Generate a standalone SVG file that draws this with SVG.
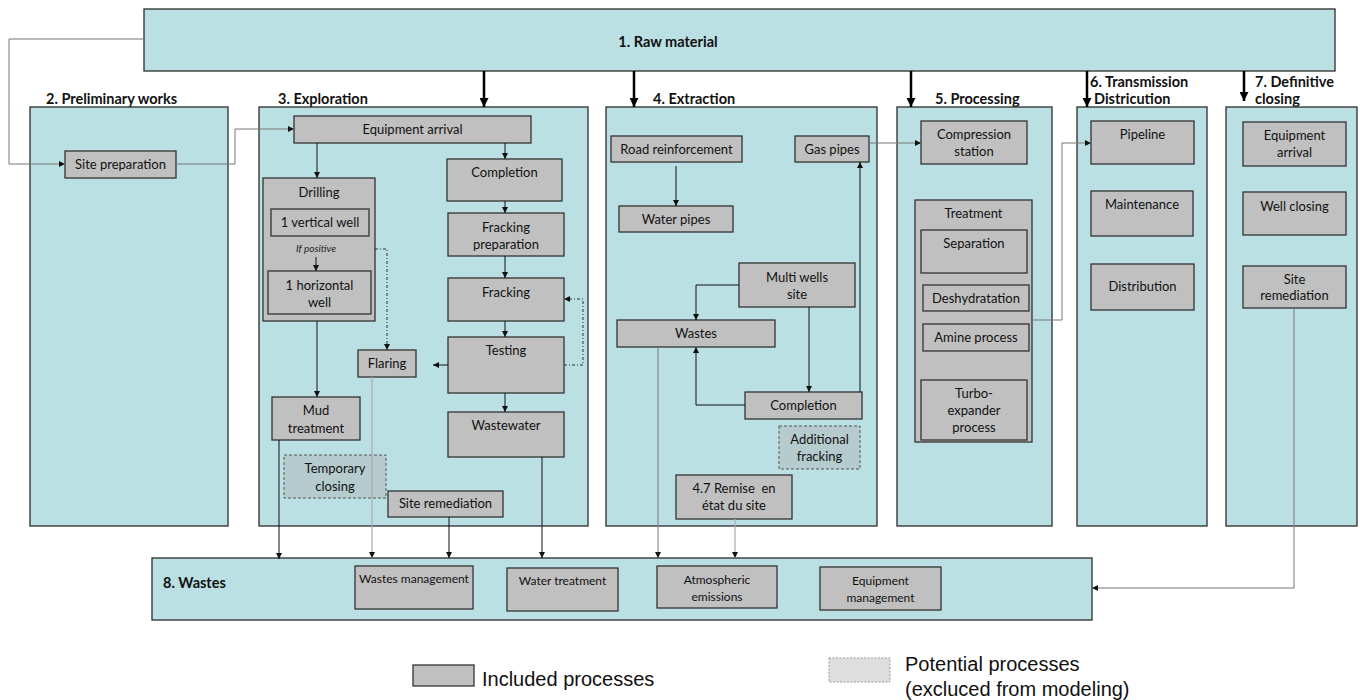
<svg xmlns="http://www.w3.org/2000/svg" width="1360" height="700" viewBox="0 0 1360 700">
  <style>
    .stage { fill: #bbe0e3; stroke: #2b2b2b; stroke-width: 1.3; }
    .proc { fill: #c0c0c0; stroke: #333; stroke-width: 1.3; }
    .pot { fill: #b5cbce; stroke: #555; stroke-width: 1; stroke-dasharray: 3 2; }
    .t { font-family: Lato, "Liberation Sans", sans-serif; font-size: 13px; fill: #111; text-anchor: middle; }
    .ts { font-family: Lato, "Liberation Sans", sans-serif; font-size: 12px; fill: #111; text-anchor: middle; }
    .title { font-family: Lato, "Liberation Sans", sans-serif; font-size: 14.5px; font-weight: bold; fill: #111; }
    .note { font-family: Lato, "Liberation Sans", sans-serif; font-size: 10px; font-style: italic; fill: #222; text-anchor: middle; }
    .leg { font-family: "Liberation Sans", Arial, sans-serif; font-size: 20px; fill: #111; }
    .c { fill: none; stroke: #111; stroke-width: 1; }
    .cg { fill: none; stroke: #777; stroke-width: 1; }
    .cl { fill: none; stroke: #aaa; stroke-width: 1.2; }
    .cd { fill: none; stroke: #333; stroke-width: 1; stroke-dasharray: 3 2 1 2; }
    .thick { fill: none; stroke: #000; stroke-width: 2.5; }
  </style>
  <defs>
    <marker id="arr" markerUnits="userSpaceOnUse" markerWidth="6" markerHeight="6" refX="6" refY="3" orient="auto">
      <path d="M0,0 L6,3 L0,6 z" fill="#111"/>
    </marker>
    <marker id="arrT" markerUnits="userSpaceOnUse" markerWidth="9" markerHeight="9" refX="9" refY="4.5" orient="auto">
      <path d="M0,0 L9,4.5 L0,9 z" fill="#000"/>
    </marker>
  </defs>

  <!-- 1. Raw material -->
  <g id="raw-material">
    <rect class="stage" x="144" y="9" width="1191" height="62"/>
    <text class="title" x="668" y="47" text-anchor="middle">1. Raw material</text>
  </g>

  <!-- 2. Preliminary works -->
  <g id="preliminary-works">
    <text class="title" x="46" y="104">2. Preliminary works</text>
    <rect class="stage" x="30" y="107" width="198" height="419"/>
  </g>
  <g id="site-preparation">
    <rect class="proc" x="65" y="151" width="111" height="27"/>
    <text class="t" x="120.5" y="169">Site preparation</text>
  </g>

  <!-- 3. Exploration -->
  <g id="exploration">
    <text class="title" x="278" y="104">3. Exploration</text>
    <rect class="stage" x="259" y="107" width="329" height="419"/>
  </g>
  <g id="equipment-arrival">
    <rect class="proc" x="294" y="116" width="237" height="27"/>
    <text class="t" x="412.5" y="134">Equipment arrival</text>
  </g>
  <g id="drilling">
    <rect class="proc" x="263" y="178" width="112" height="143"/>
    <text class="t" x="319" y="197">Drilling</text>
    <text class="note" x="316" y="252">If positive</text>
  </g>
  <g id="vertical-well">
    <rect class="proc" x="271" y="209" width="98" height="27"/>
    <text class="t" x="320" y="227">1 vertical well</text>
  </g>
  <g id="horizontal-well">
    <rect class="proc" x="268" y="271" width="103" height="43"/>
    <text class="t" x="319.5" y="290">1 horizontal</text>
    <text class="t" x="319.5" y="307">well</text>
  </g>
  <g id="completion-expl">
    <rect class="proc" x="447" y="159" width="115" height="42"/>
    <text class="t" x="504.5" y="177">Completion</text>
  </g>
  <g id="fracking-preparation">
    <rect class="proc" x="448" y="213" width="116" height="43"/>
    <text class="t" x="506" y="232">Fracking</text>
    <text class="t" x="506" y="249">preparation</text>
  </g>
  <g id="fracking">
    <rect class="proc" x="448" y="278" width="116" height="43"/>
    <text class="t" x="506" y="297">Fracking</text>
  </g>
  <g id="testing">
    <rect class="proc" x="448" y="337" width="116" height="56"/>
    <text class="t" x="506" y="355">Testing</text>
  </g>
  <g id="flaring">
    <rect class="proc" x="358" y="350" width="58" height="27"/>
    <text class="t" x="387" y="368">Flaring</text>
  </g>
  <g id="mud-treatment">
    <rect class="proc" x="272" y="397" width="88" height="43"/>
    <text class="t" x="316" y="415">Mud</text>
    <text class="t" x="316" y="433">treatment</text>
  </g>
  <g id="wastewater">
    <rect class="proc" x="448" y="412" width="116" height="45"/>
    <text class="t" x="506" y="430">Wastewater</text>
  </g>
  <g id="temporary-closing">
    <rect class="pot" x="284" y="455" width="102" height="43"/>
    <text class="t" x="335" y="473">Temporary</text>
    <text class="t" x="335" y="491">closing</text>
  </g>
  <g id="site-remediation-expl">
    <rect class="proc" x="388" y="491" width="115" height="26"/>
    <text class="t" x="445.5" y="508">Site remediation</text>
  </g>

  <!-- 4. Extraction -->
  <g id="extraction">
    <text class="title" x="653" y="104">4. Extraction</text>
    <rect class="stage" x="606" y="107" width="271" height="419"/>
  </g>
  <g id="road-reinforcement">
    <rect class="proc" x="611" y="136" width="131" height="26"/>
    <text class="t" x="676.5" y="154">Road reinforcement</text>
  </g>
  <g id="water-pipes">
    <rect class="proc" x="619" y="206" width="114" height="26"/>
    <text class="t" x="676" y="224">Water pipes</text>
  </g>
  <g id="gas-pipes">
    <rect class="proc" x="795" y="136" width="74" height="26"/>
    <text class="t" x="832" y="154">Gas pipes</text>
  </g>
  <g id="multi-wells-site">
    <rect class="proc" x="739" y="263" width="116" height="44"/>
    <text class="t" x="797" y="282">Multi wells</text>
    <text class="t" x="797" y="299">site</text>
  </g>
  <g id="wastes-extr">
    <rect class="proc" x="617" y="320" width="158" height="27"/>
    <text class="t" x="696" y="338">Wastes</text>
  </g>
  <g id="completion-extr">
    <rect class="proc" x="745" y="392" width="117" height="27"/>
    <text class="t" x="803.5" y="410">Completion</text>
  </g>
  <g id="additional-fracking">
    <rect class="pot" x="779" y="426" width="81" height="43"/>
    <text class="t" x="819.5" y="444">Additional</text>
    <text class="t" x="819.5" y="461">fracking</text>
  </g>
  <g id="remise-en-etat">
    <rect class="proc" x="676" y="475" width="116" height="44"/>
    <text class="t" x="734" y="493" xml:space="preserve">4.7 Remise  en</text>
    <text class="t" x="734" y="510">état du site</text>
  </g>

  <!-- 5. Processing -->
  <g id="processing">
    <text class="title" x="935" y="104">5. Processing</text>
    <rect class="stage" x="897" y="107" width="155" height="419"/>
  </g>
  <g id="compression-station">
    <rect class="proc" x="921" y="121" width="106" height="43"/>
    <text class="t" x="974" y="139">Compression</text>
    <text class="t" x="974" y="156">station</text>
  </g>
  <g id="treatment">
    <rect class="proc" x="915" y="200" width="117" height="242"/>
    <text class="t" x="973.5" y="218">Treatment</text>
  </g>
  <g id="separation">
    <rect class="proc" x="921" y="230" width="106" height="43"/>
    <text class="t" x="974" y="248">Separation</text>
  </g>
  <g id="deshydratation">
    <rect class="proc" x="923" y="285" width="106" height="26"/>
    <text class="t" x="976" y="303">Deshydratation</text>
  </g>
  <g id="amine-process">
    <rect class="proc" x="923" y="324" width="106" height="27"/>
    <text class="t" x="976" y="342">Amine process</text>
  </g>
  <g id="turbo-expander">
    <rect class="proc" x="921" y="380" width="106" height="60"/>
    <text class="t" x="974" y="398">Turbo-</text>
    <text class="t" x="974" y="415">expander</text>
    <text class="t" x="974" y="432">process</text>
  </g>

  <!-- 6. Transmission / Distribution -->
  <g id="transmission">
    <text class="title" x="1090" y="87">6. Transmission</text>
    <text class="title" x="1094" y="104">Districution</text>
    <rect class="stage" x="1077" y="107" width="130" height="419"/>
  </g>
  <g id="pipeline">
    <rect class="proc" x="1091" y="121" width="103" height="43"/>
    <text class="t" x="1142.5" y="139">Pipeline</text>
  </g>
  <g id="maintenance">
    <rect class="proc" x="1091" y="191" width="102" height="45"/>
    <text class="t" x="1142" y="209">Maintenance</text>
  </g>
  <g id="distribution">
    <rect class="proc" x="1091" y="264" width="103" height="46"/>
    <text class="t" x="1142.5" y="291">Distribution</text>
  </g>

  <!-- 7. Definitive closing -->
  <g id="definitive-closing">
    <text class="title" x="1255" y="87">7. Definitive</text>
    <text class="title" x="1255" y="104">closing</text>
    <rect class="stage" x="1226" y="107" width="131" height="419"/>
  </g>
  <g id="equipment-arrival-closing">
    <rect class="proc" x="1243" y="122" width="103" height="44"/>
    <text class="t" x="1294.5" y="140">Equipment</text>
    <text class="t" x="1294.5" y="157">arrival</text>
  </g>
  <g id="well-closing">
    <rect class="proc" x="1243" y="192" width="103" height="43"/>
    <text class="t" x="1294.5" y="211">Well closing</text>
  </g>
  <g id="site-remediation-closing">
    <rect class="proc" x="1243" y="266" width="103" height="42"/>
    <text class="t" x="1294.5" y="284">Site</text>
    <text class="t" x="1294.5" y="300">remediation</text>
  </g>

  <!-- 8. Wastes -->
  <g id="wastes">
    <rect class="stage" x="152" y="558" width="940" height="62"/>
    <text class="title" x="163" y="588">8. Wastes</text>
  </g>
  <g id="wastes-management">
    <rect class="proc" x="355" y="566" width="118" height="43"/>
    <text class="ts" x="414" y="583">Wastes management</text>
  </g>
  <g id="water-treatment">
    <rect class="proc" x="507" y="568" width="111" height="43"/>
    <text class="ts" x="562.5" y="585">Water treatment</text>
  </g>
  <g id="atmospheric-emissions">
    <rect class="proc" x="657" y="566" width="120" height="42"/>
    <text class="ts" x="717" y="584">Atmospheric</text>
    <text class="ts" x="717" y="601">emissions</text>
  </g>
  <g id="equipment-management">
    <rect class="proc" x="820" y="567" width="121" height="43"/>
    <text class="ts" x="880.5" y="585">Equipment</text>
    <text class="ts" x="880.5" y="602">management</text>
  </g>

  <!-- Connectors -->
  <g id="connectors">
    <polyline class="cg" points="144,39 9,39 9,164 65,164" marker-end="url(#arr)"/>
    <polyline class="cg" points="176,164 235,164 235,129 294,129" marker-end="url(#arr)"/>

    <line class="thick" x1="484" y1="71" x2="484" y2="107" marker-end="url(#arrT)"/>
    <line class="thick" x1="634" y1="71" x2="634" y2="107" marker-end="url(#arrT)"/>
    <line class="thick" x1="911" y1="71" x2="911" y2="107" marker-end="url(#arrT)"/>
    <line class="thick" x1="1087" y1="71" x2="1087" y2="107" marker-end="url(#arrT)"/>
    <line class="thick" x1="1244" y1="71" x2="1244" y2="101" marker-end="url(#arrT)"/>

    <line class="c" x1="317" y1="143" x2="317" y2="178" marker-end="url(#arr)"/>
    <line class="c" x1="505" y1="143" x2="505" y2="159" marker-end="url(#arr)"/>
    <line class="c" x1="316" y1="257" x2="316" y2="271" marker-end="url(#arr)"/>
    <line class="c" x1="505" y1="201" x2="505" y2="213" marker-end="url(#arr)"/>
    <line class="c" x1="505" y1="256" x2="505" y2="278" marker-end="url(#arr)"/>
    <line class="c" x1="505" y1="321" x2="505" y2="337" marker-end="url(#arr)"/>
    <line class="c" x1="505" y1="393" x2="505" y2="412" marker-end="url(#arr)"/>
    <line class="c" x1="448" y1="365" x2="433" y2="365" marker-end="url(#arr)"/>
    <polyline class="cd" points="564,365 583,365 583,299 564,299" marker-end="url(#arr)"/>
    <polyline class="cd" points="375,249 387,249 387,350" marker-end="url(#arr)"/>
    <line class="c" x1="317" y1="321" x2="317" y2="397" marker-end="url(#arr)"/>

    <line class="c" x1="279" y1="440" x2="279" y2="559" marker-end="url(#arr)"/>
    <line class="cl" x1="372" y1="377" x2="372" y2="558" marker-end="url(#arr)"/>
    <line class="c" x1="449" y1="517" x2="449" y2="558" marker-end="url(#arr)"/>
    <line class="c" x1="542" y1="457" x2="542" y2="558" marker-end="url(#arr)"/>

    <line class="c" x1="676" y1="166" x2="676" y2="206" marker-end="url(#arr)"/>
    <polyline class="c" points="739,285 696,285 696,320" marker-end="url(#arr)"/>
    <line class="c" x1="809" y1="307" x2="809" y2="392" marker-end="url(#arr)"/>
    <polyline class="c" points="745,405 696,405 696,347" marker-end="url(#arr)"/>
    <line class="c" x1="860" y1="392" x2="860" y2="162" marker-end="url(#arr)"/>
    <line class="cg" x1="869" y1="143" x2="921" y2="143" marker-end="url(#arr)"/>
    <line class="cg" x1="658" y1="347" x2="658" y2="558" marker-end="url(#arr)"/>
    <line class="cl" x1="735" y1="519" x2="735" y2="558" marker-end="url(#arr)"/>

    <polyline class="cg" points="1032,320 1062,320 1062,143 1091,143" marker-end="url(#arr)"/>
    <polyline class="cg" points="1294,308 1294,588 1092,588" marker-end="url(#arr)"/>
  </g>

  <!-- Legend -->
  <g id="legend-included">
    <rect class="proc" x="413" y="665" width="61" height="21"/>
    <text class="leg" x="482" y="686">Included processes</text>
  </g>
  <g id="legend-potential">
    <rect x="829" y="658" width="61" height="24" fill="#dedede" stroke="#999" stroke-width="1" stroke-dasharray="2 1.5"/>
    <text class="leg" x="905" y="671">Potential processes</text>
    <text class="leg" x="905" y="696">(excluced from modeling)</text>
  </g>
</svg>
